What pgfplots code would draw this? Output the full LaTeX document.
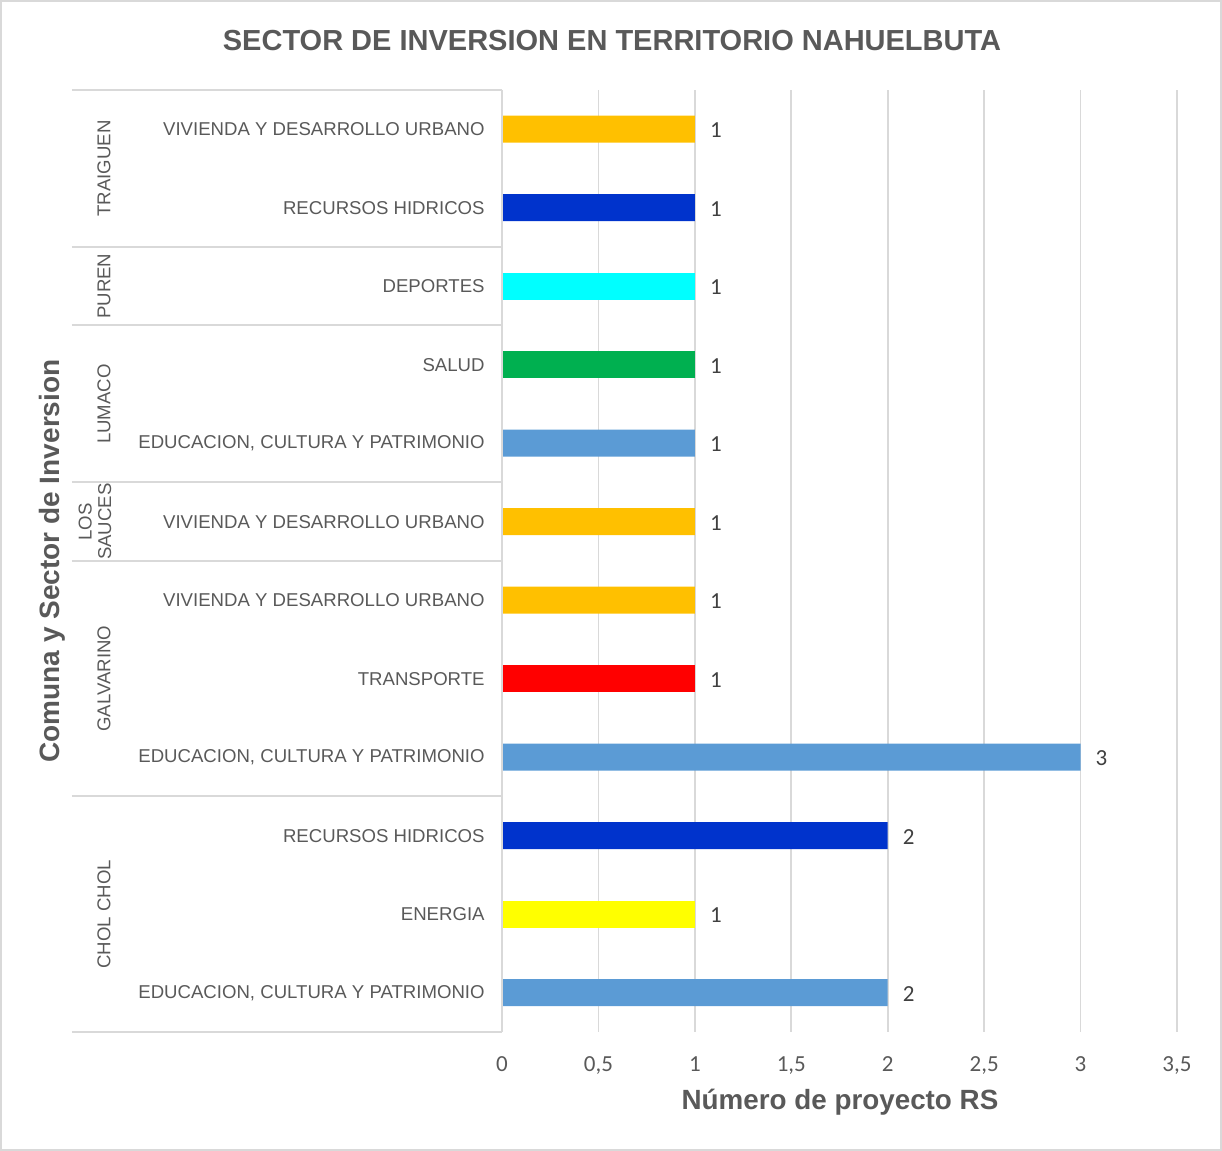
\documentclass[border=0pt]{standalone}
\usepackage{pgfplots}
\pgfplotsset{compat=1.18}
\usepackage{fontspec}
\setmainfont{Liberation Sans}
\newfontfamily\carlito{Carlito}
\definecolor{txt}{HTML}{595959}
\definecolor{lbl}{HTML}{404040}
\definecolor{gridc}{HTML}{D9D9D9}
\definecolor{cviv}{HTML}{FFC000}
\definecolor{crec}{HTML}{0033CC}
\definecolor{cdep}{HTML}{00FFFF}
\definecolor{csal}{HTML}{00B050}
\definecolor{cedu}{HTML}{5B9BD5}
\definecolor{ctra}{HTML}{FF0000}
\definecolor{cene}{HTML}{FFFF00}
\begin{document}
\begin{tikzpicture}[x=1pt,y=1pt]
\useasboundingbox (-251,-59.5) rectangle (360,516);
\draw[gridc, line width=0.8pt] (-250.4,-58.9) rectangle (359.4,515.4);
\begin{axis}[
  at={(0,0)}, anchor=south west,
  scale only axis, width=337.5pt, height=471pt,
  xmin=0, xmax=3.5, ymin=-0.5, ymax=11.5,
  xbar, bar width=13.5pt, bar shift=0pt,
  axis line style={draw=none},
  xmajorgrids, grid style={gridc, line width=0.8pt},
  major tick length=0pt,
  xtick={0,0.5,...,3.5},
  /pgf/number format/use comma,
  /pgf/number format/assume math mode=true,
  xticklabel style={font=\carlito\fontsize{11.5}{13}\selectfont, text=txt, anchor=base, inner sep=0pt, yshift=-20pt},
  ytick={0,...,11},
  yticklabels={{EDUCACION, CULTURA Y PATRIMONIO},ENERGIA,RECURSOS HIDRICOS,{EDUCACION, CULTURA Y PATRIMONIO},TRANSPORTE,VIVIENDA Y DESARROLLO URBANO,VIVIENDA Y DESARROLLO URBANO,{EDUCACION, CULTURA Y PATRIMONIO},SALUD,DEPORTES,RECURSOS HIDRICOS,VIVIENDA Y DESARROLLO URBANO},
  yticklabel style={font=\fontsize{9.3}{11}\selectfont, text=txt, anchor=east, inner sep=0pt, xshift=-8.5pt},
  nodes near coords,
  every node near coord/.append style={font=\carlito\fontsize{11.5}{13}\selectfont, text=lbl, anchor=center, inner sep=0pt, xshift=10.5pt, yshift=-0.5pt},
  clip=false,
]
\addplot[fill=cedu, draw=none] coordinates {(2,0) (3,3) (1,7)};
\addplot[fill=cene, draw=none] coordinates {(1,1)};
\addplot[fill=crec, draw=none] coordinates {(2,2) (1,10)};
\addplot[fill=ctra, draw=none] coordinates {(1,4)};
\addplot[fill=cviv, draw=none] coordinates {(1,5) (1,6) (1,11)};
\addplot[fill=csal, draw=none] coordinates {(1,8)};
\addplot[fill=cdep, draw=none] coordinates {(1,9)};
% left axis line and group separators
\draw[gridc, line width=1pt] (axis cs:0,11.5) -- (axis cs:0,-0.5);
\draw[gridc, line width=1pt] ([xshift=-215pt]axis cs:0,11.5) -- (axis cs:0,11.5);
\draw[gridc, line width=1pt] ([xshift=-215pt]axis cs:0,9.5) -- (axis cs:0,9.5);
\draw[gridc, line width=1pt] ([xshift=-215pt]axis cs:0,8.5) -- (axis cs:0,8.5);
\draw[gridc, line width=1pt] ([xshift=-215pt]axis cs:0,6.5) -- (axis cs:0,6.5);
\draw[gridc, line width=1pt] ([xshift=-215pt]axis cs:0,5.5) -- (axis cs:0,5.5);
\draw[gridc, line width=1pt] ([xshift=-215pt]axis cs:0,2.5) -- (axis cs:0,2.5);
\draw[gridc, line width=1pt] ([xshift=-215pt]axis cs:0,-0.5) -- (axis cs:0,-0.5);
% group labels
\begin{scope}[every node/.style={font=\fontsize{9.3}{9.8}\selectfont, text=txt, rotate=90, anchor=center}]
\node at ([xshift=-199pt]axis cs:0,10.5) {TRAIGUEN};
\node at ([xshift=-199pt]axis cs:0,9) {PUREN};
\node at ([xshift=-199pt]axis cs:0,7.5) {LUMACO};
\node[align=center] at ([xshift=-203.5pt]axis cs:0,6) {LOS\\SAUCES};
\node at ([xshift=-199pt]axis cs:0,4) {GALVARINO};
\node at ([xshift=-199pt]axis cs:0,1) {CHOL CHOL};
\end{scope}
\end{axis}
\node[font=\bfseries\fontsize{14.5}{17}\selectfont, text=txt] at (55,495.5) {SECTOR DE INVERSION EN TERRITORIO NAHUELBUTA};
\node[font=\bfseries\fontsize{13.9}{16}\selectfont, text=txt] at (169,-35) {Número de proyecto RS};
\node[font=\bfseries\fontsize{14}{16}\selectfont, text=txt, rotate=90] at (-225,235.5) {Comuna y Sector de Inversion};
\end{tikzpicture}
\end{document}
